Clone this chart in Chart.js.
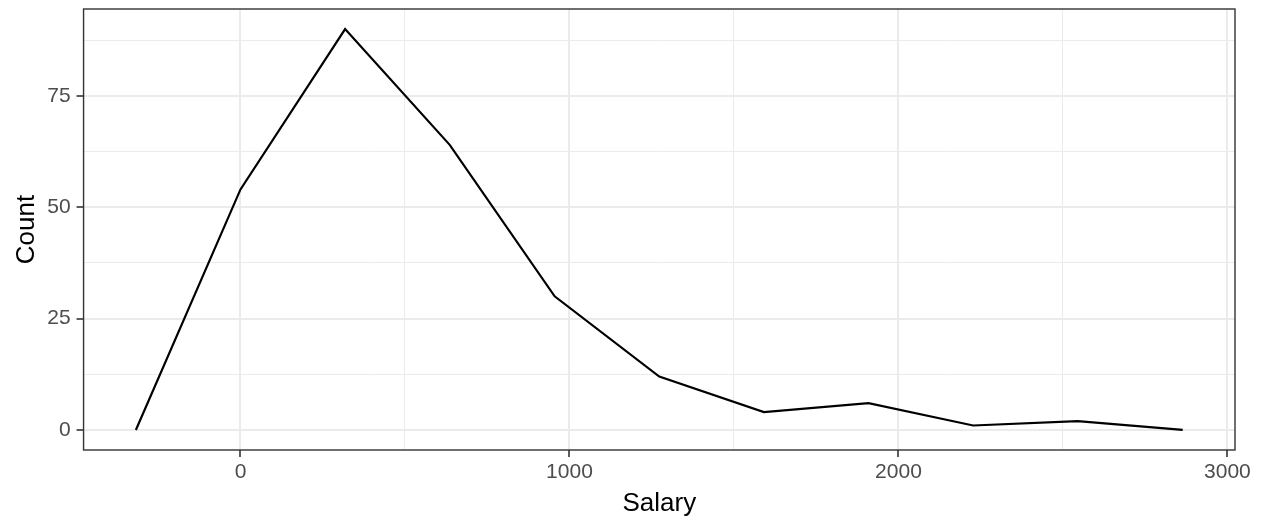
<!DOCTYPE html>
<html>
<head>
<meta charset="utf-8">
<script src="https://cdn.jsdelivr.net/npm/chart.js@4"></script>
<style>
  body { margin: 0; background: #fff; }
  #wrap { width: 1263px; height: 525px; position: relative; }
</style>
</head>
<body>
<div id="wrap"><canvas id="myChart"></canvas></div>
<script>
// bin midpoints (salary) and counts per bin
const salaryMids = [-318, 0, 318, 636, 955, 1273, 1591, 1909, 2227, 2545, 2864];
const counts = [0, 54, 90, 64, 30, 12, 4, 6, 1, 2, 0];
const xMajor = [0, 1000, 2000, 3000];
const xMinor = [500, 1500, 2500];
const yMajor = [0, 25, 50, 75];
const yMinor = [12.5, 37.5, 62.5, 87.5];

const points = salaryMids.map((x, i) => ({ x: x, y: counts[i] }));

// full box round the panel, like theme_bw
const panelBorder = {
  id: 'panelBorder',
  afterDraw(chart) {
    const a = chart.chartArea;
    const ctx = chart.ctx;
    ctx.save();
    ctx.strokeStyle = '#333333';
    ctx.lineWidth = 1.4;
    ctx.strokeRect(a.left, a.top, a.right - a.left, a.bottom - a.top);
    ctx.restore();
  }
};

const isMajor = (list, v) => list.indexOf(v) !== -1;

const chart1 = new Chart('myChart', {
  type: 'scatter',
  data: {
    datasets: [{
      label: 'Count',
      data: points,
      showLine: true,
      borderColor: '#000000',
      borderWidth: 2.2,
      pointRadius: 0,
      tension: 0
    }]
  },
  options: {
    responsive: true,
    maintainAspectRatio: false,
    animation: false,
    layout: { padding: { top: 9, right: 28, left: 11, bottom: 5.6 } },
    plugins: {
      legend: { display: false },
      tooltip: { enabled: false }
    },
    scales: {
      x: {
        type: 'linear',
        min: -477,
        max: 3023,
        afterBuildTicks: s => { s.ticks = [...xMajor, ...xMinor].sort((a, b) => a - b).map(v => ({ value: v })); },
        border: { display: false },
        grid: {
          color: '#ebebeb',
          lineWidth: c => isMajor(xMajor, c.tick.value) ? 2 : 1,
          tickColor: c => isMajor(xMajor, c.tick.value) ? '#333333' : 'rgba(0,0,0,0)',
          tickWidth: 1.6,
          tickLength: 7
        },
        ticks: {
          autoSkip: false,
          maxRotation: 0,
          padding: 3,
          color: '#4d4d4d',
          font: { family: 'Liberation Sans', size: 21 },
          callback: v => isMajor(xMajor, v) ? String(v) : ''
        },
        title: {
          display: true,
          text: 'Salary',
          color: '#000000',
          font: { family: 'Liberation Sans', size: 26 },
          padding: { top: 0, bottom: 0 }
        }
      },
      y: {
        type: 'linear',
        min: -4.5,
        max: 94.5,
        afterBuildTicks: s => { s.ticks = [...yMajor, ...yMinor].sort((a, b) => a - b).map(v => ({ value: v })); },
        border: { display: false },
        grid: {
          color: '#ebebeb',
          lineWidth: c => isMajor(yMajor, c.tick.value) ? 2 : 1,
          tickColor: c => isMajor(yMajor, c.tick.value) ? '#333333' : 'rgba(0,0,0,0)',
          tickWidth: 1.6,
          tickLength: 7
        },
        ticks: {
          autoSkip: false,
          padding: 6,
          color: '#4d4d4d',
          font: { family: 'Liberation Sans', size: 21, lineHeight: 0.2 },
          callback: v => isMajor(yMajor, v) ? String(v) : ''
        },
        title: {
          display: true,
          text: 'Count',
          color: '#000000',
          font: { family: 'Liberation Sans', size: 26 },
          padding: { top: 0, bottom: -1 }
        }
      }
    }
  },
  plugins: [panelBorder]
});
</script>
</body>
</html>
